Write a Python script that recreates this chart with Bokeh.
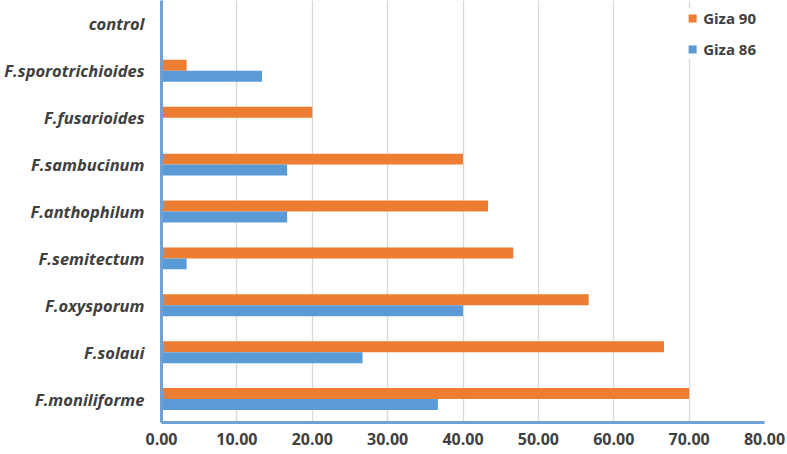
from bokeh.plotting import figure
from bokeh.models import FactorRange, Range1d, NumeralTickFormatter, FixedTicker, ColumnDataSource
from bokeh.transform import dodge
from bokeh.embed import file_html
from bokeh.resources import INLINE

categories = ["F.moniliforme", "F.solaui", "F.oxysporum", "F.semitectum", "F.anthophilum",
              "F.sambucinum", "F.fusarioides", "F.sporotrichioides", "control"]
giza90 = [70.00, 66.67, 56.67, 46.67, 43.33, 40.00, 20.00, 3.33, 0.00]
giza86 = [36.67, 26.67, 40.00, 3.33, 16.67, 16.67, 0.00, 13.33, 0.00]
x_ticks = [0, 10, 20, 30, 40, 50, 60, 70, 80]

src = ColumnDataSource(dict(cat=categories, g90=giza90, g86=giza86))

ORANGE = "#ED7D31"
BLUE = "#5B9BD5"
AXIS_BLUE = "#6FA0D8"
TEXT = "#404040"

p = figure(y_range=FactorRange(factors=categories, range_padding=0),
           x_range=Range1d(0, 80),
           frame_width=603, frame_height=422,
           min_border_left=161, min_border_right=22, min_border_top=0, min_border_bottom=30,
           output_backend="svg", toolbar_location=None)

p.hbar(y=dodge("cat", 0.117, range=p.y_range), right="g90", left=0, height=0.234,
       source=src, fill_color=ORANGE, line_color=None, legend_label="Giza 90")
p.hbar(y=dodge("cat", -0.117, range=p.y_range), right="g86", left=0, height=0.234,
       source=src, fill_color=BLUE, line_color=None, legend_label="Giza 86")

p.outline_line_color = None
p.ygrid.grid_line_color = None
p.xgrid.grid_line_color = "#D9D9D9"
p.xgrid.grid_line_width = 1.3

p.xaxis.ticker = FixedTicker(ticks=x_ticks)
p.xaxis.formatter = NumeralTickFormatter(format="0.00")
for ax in (p.xaxis[0], p.yaxis[0]):
    ax.axis_line_color = AXIS_BLUE
    ax.axis_line_width = 3
    ax.major_tick_line_color = None
    ax.minor_tick_line_color = None
    ax.major_label_text_color = TEXT
    ax.major_label_text_font = "Open Sans"
    ax.major_label_text_font_style = "bold"

p.xaxis.major_label_text_font_size = "16px"
p.xaxis.major_label_standoff = 4
p.yaxis.major_label_text_font_size = "16.5px"
p.yaxis.major_label_text_font_style = "bold italic"
p.yaxis.major_label_standoff = 11

lg = p.legend[0]
lg.location = "top_right"
lg.margin = 8
lg.padding = 3
lg.spacing = 11
lg.glyph_width = 10
lg.glyph_height = 10
lg.label_standoff = 6
lg.label_text_font = "Open Sans"
lg.label_text_font_size = "15px"
lg.label_text_font_style = "bold"
lg.label_text_color = TEXT
lg.border_line_color = None
lg.background_fill_alpha = 1.0

open("out.html", "w").write(file_html(p, INLINE))
